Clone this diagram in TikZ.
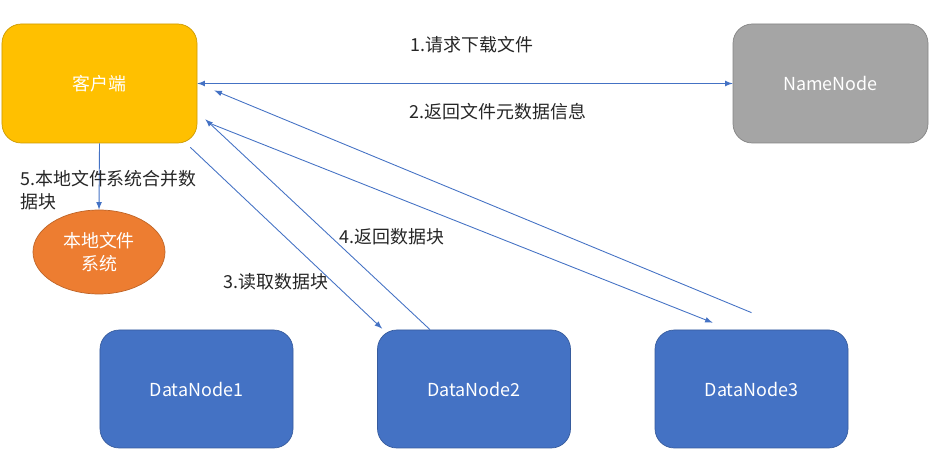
\documentclass[tikz,border=0pt]{standalone}
\usepackage{fontspec}
\setmainfont{Noto Sans CJK SC}
\usepackage{tikz}
\usetikzlibrary{shapes,arrows,calc}
\definecolor{clientc}{HTML}{FFC000}
\definecolor{namec}{HTML}{A5A5A5}
\definecolor{localc}{HTML}{ED7D31}
\definecolor{datac}{HTML}{4472C4}
\definecolor{linec}{HTML}{4472C4}

\begin{document}
\begin{tikzpicture}[x=0.2mm,y=-0.2mm]
      \tikzset{box/.style={rounded corners=11pt,
          minimum width=3.9cm,
          minimum height=2.38cm,
          fill=#1,
          draw=#1!80!black,
          line width=0.4pt,
          text=white,
          font=\fontsize{10.2}{13}\selectfont},
        flow/.style={draw=linec, line width=0.5pt, >=latex},
        note/.style={text=black!85, font=\fontsize{10.2}{13}\selectfont, inner sep=0pt}
      }
      \useasboundingbox (0,0) rectangle (938,466);
      \node [box=clientc] (client) at (99.5,83.5) {客户端};
      \node [box=namec] (namenode) at (830.5,83.5) {NameNode};
      \node [ellipse, fill=localc, draw=localc!80!black, line width=0.4pt,
        minimum width=2.64cm, minimum height=1.68cm, text=white, align=center,
        font=\fontsize{10.2}{13}\selectfont] (local) at (99,252) {本地文件\\系统};
      \node [box=datac, minimum width=3.86cm, minimum height=2.36cm] (dn1) at (196.5,389) {DataNode1};
      \node [box=datac, minimum width=3.86cm, minimum height=2.36cm] (dn2) at (474,389) {DataNode2};
      \node [box=datac, minimum width=3.86cm, minimum height=2.36cm] (dn3) at (751.5,389) {DataNode3};

      \coordinate (r1) at ($(client.south east)+(-7,4)$);
      \coordinate (r2) at ($(dn2.north west)+(5,-1)$);
      \coordinate (b1) at ($(dn2.north)+(-44,0)$);
      \coordinate (b2) at ($(client.south east)+(8,-24)$);
      \coordinate (s1) at ($(client.south east)+(15,-19)$);
      \coordinate (s2) at ($(dn3.north west)+(58,-7)$);
      \coordinate (t1) at ($(dn3.north)+(0,-17)$);
      \coordinate (t2) at ($(client.east)+(17,7)$);

      \draw [flow,<->] (client.east)--(namenode.west);
      \draw [flow,->] (client.south)--(local.north);
      \draw [flow,->] (r1)--(r2);
      \draw [flow,->] (b1)--(b2);
      \draw [flow,->] (s1)--(s2);
      \draw [flow,->] (t1)--(t2);

      \node [note] (m1) at (472,45) {1.请求下载文件};
      \node [note] (m2) at (498,112) {2.返回文件元数据信息};
      \node [note] (m3) at (276,282) {3.读取数据块};
      \node [note] (m4) at (392,237) {4.返回数据块};
      \node [note, anchor=north west, align=left] (m5) at (20,170) {5.本地文件系统合并数\\据块};

    \end{tikzpicture}
\end{document}
